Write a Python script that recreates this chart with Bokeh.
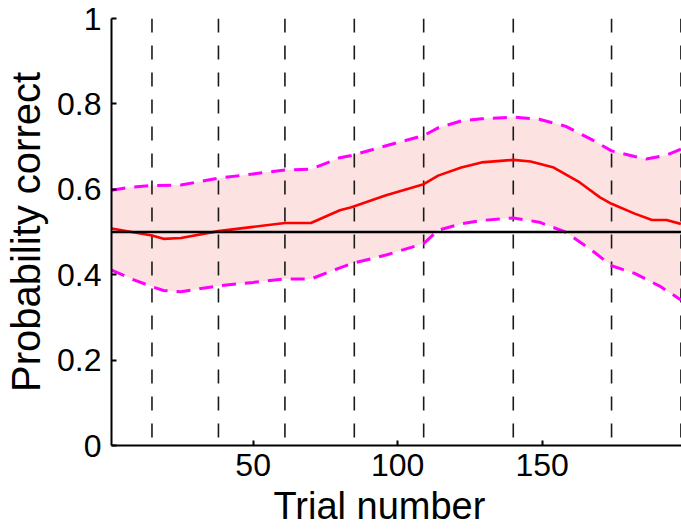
from bokeh.plotting import figure
from bokeh.models import Range1d, FixedTicker, Span, Title
from bokeh.embed import file_html
from bokeh.resources import INLINE

# ---- data ----
mean_t = [1, 8, 15, 19, 25, 38, 50, 61, 70, 80, 84, 96, 109, 114, 122, 129, 140, 146, 154, 163, 170, 174, 182, 188, 193, 198]
mean_v = [0.508, 0.500, 0.492, 0.484, 0.486, 0.502, 0.512, 0.521, 0.521, 0.551, 0.558, 0.586, 0.612, 0.632, 0.651, 0.663, 0.669, 0.665, 0.651, 0.616, 0.581, 0.566, 0.543, 0.528, 0.528, 0.519]

upper_t = [1, 8, 15, 25, 38, 50, 61, 70, 80, 84, 96, 109, 114, 122, 129, 140, 149, 158, 167, 174, 182, 186, 193, 198]
upper_v = [0.598, 0.605, 0.609, 0.610, 0.626, 0.636, 0.645, 0.647, 0.674, 0.679, 0.702, 0.726, 0.744, 0.760, 0.765, 0.769, 0.764, 0.748, 0.717, 0.690, 0.677, 0.671, 0.680, 0.694]

lower_t = [1, 8, 15, 19, 25, 38, 50, 61, 70, 80, 84, 96, 109, 114, 122, 129, 140, 149, 158, 167, 174, 182, 191, 198]
lower_v = [0.411, 0.390, 0.372, 0.363, 0.360, 0.374, 0.382, 0.390, 0.390, 0.416, 0.426, 0.446, 0.473, 0.504, 0.519, 0.527, 0.533, 0.523, 0.500, 0.458, 0.421, 0.403, 0.372, 0.341]

block_edges = [15, 38, 61, 85, 109, 140, 174, 198]
chance = 0.5

x_ticks = [50, 100, 150]
y_ticks = [0, 0.2, 0.4, 0.6, 0.8, 1]
y_tick_labels = ["0", "0.2", "0.4", "0.6", "0.8", "1"]
x_label = "Trial number"
y_label = "Probability correct"

FONT = "Liberation Sans"

p = figure(width=681, height=531, output_backend="svg", toolbar_location=None,
           x_range=Range1d(1, 198.2), y_range=Range1d(0, 1),
           min_border_left=111, min_border_right=0, min_border_top=18, min_border_bottom=86)
p.outline_line_color = None
p.grid.visible = False
p.background_fill_color = "white"
p.border_fill_color = "white"

# confidence band
p.patch(x=upper_t + lower_t[::-1], y=upper_v + lower_v[::-1],
        fill_color="#fde2e2", line_color=None)

# block boundaries
p.segment(x0=block_edges, y0=[1] * len(block_edges), x1=block_edges, y1=[0] * len(block_edges),
          line_color="#1a1a1a", line_width=1.6, line_dash="14 13")

# chance line
p.add_layout(Span(location=chance, dimension="width", line_color="black", line_width=2.5))

# bounds
p.line(upper_t, upper_v, line_color="#ff00ff", line_width=3, line_dash="14 9")
p.line(lower_t, lower_v, line_color="#ff00ff", line_width=3, line_dash="14 9")

# mean
p.line(mean_t, mean_v, line_color="#ff0000", line_width=2.6)

# axes
for ax in (p.xaxis[0], p.yaxis[0]):
    ax.axis_line_color = "black"
    ax.axis_line_width = 2
    ax.major_tick_line_color = "black"
    ax.major_tick_line_width = 2
    ax.major_tick_in = 5
    ax.major_tick_out = 0
    ax.minor_tick_line_color = None
    ax.major_label_text_font = FONT
    ax.major_label_text_font_size = "32px"
    ax.major_label_text_color = "black"

p.xaxis.ticker = FixedTicker(ticks=x_ticks)
p.xaxis.major_label_standoff = 8
p.yaxis.ticker = FixedTicker(ticks=y_ticks)
p.yaxis.major_label_overrides = {t: l for t, l in zip(y_ticks, y_tick_labels)}
p.yaxis.major_label_standoff = 10

p.yaxis.axis_label = y_label
p.yaxis.axis_label_text_font = FONT
p.yaxis.axis_label_text_font_size = "40px"
p.yaxis.axis_label_text_font_style = "normal"
p.yaxis.axis_label_text_color = "black"
p.yaxis.axis_label_text_line_height = 1.0
p.yaxis.axis_label_standoff = 6

xt = Title(text=x_label, align="left", offset=162, standoff=8,
           text_font=FONT, text_font_size="38px", text_font_style="normal", text_color="black")
p.add_layout(xt, "below")

open("out.html", "w").write(file_html(p, INLINE))
